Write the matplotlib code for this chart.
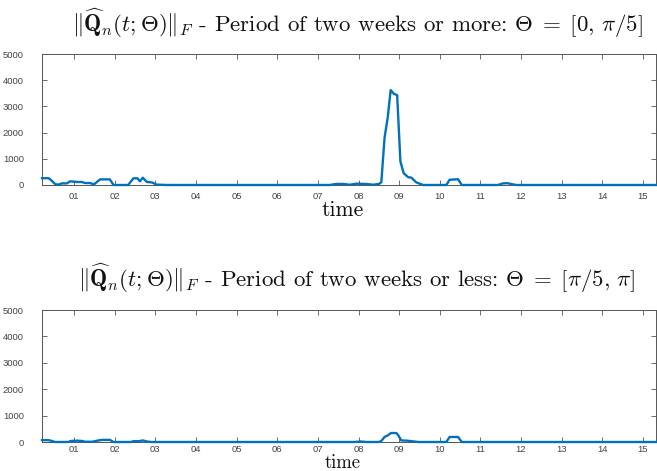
import matplotlib
matplotlib.use("Agg")
import matplotlib.pyplot as plt
from matplotlib.ticker import FixedLocator, FixedFormatter

plt.rcParams['mathtext.fontset'] = 'cm'
plt.rcParams['axes.unicode_minus'] = False

# ---- data ----
top_t = [0.21, 0.37, 0.41, 0.53, 0.60, 0.70, 0.82, 0.90, 1.07, 1.19, 1.27, 1.39, 1.49,
         1.64, 1.88, 1.97, 2.33, 2.46, 2.56, 2.62, 2.69, 2.79, 2.91, 3.03, 3.28,
         7.29, 7.45, 7.62, 7.78, 7.95, 8.19, 8.36, 8.50, 8.56, 8.64, 8.72, 8.79, 8.87,
         8.95, 9.03, 9.11, 9.22, 9.30, 9.42, 9.59, 10.16, 10.24, 10.45, 10.54,
         11.43, 11.55, 11.65, 11.72, 11.88, 15.32]
top_v = [260, 260, 220, 40, 10, 60, 60, 140, 115, 115, 75, 75, 25,
         215, 215, 0, 0, 255, 255, 140, 280, 115, 100, 15, 0,
         0, 40, 40, 10, 50, 40, 10, 40, 100, 1800, 2600, 3620, 3480,
         3430, 900, 450, 300, 280, 100, 0, 0, 200, 220, 0,
         0, 60, 70, 50, 0, 0]

bot_t = [0.21, 0.37, 0.45, 0.53, 0.85, 0.93, 1.07, 1.19, 1.27, 1.45, 1.60, 1.70, 1.88,
         1.97, 2.40, 2.46, 2.60, 2.69, 2.79, 2.90, 7.90, 8.05, 8.20, 8.50, 8.56, 8.64,
         8.72, 8.80, 8.93, 8.98, 9.05, 9.20, 9.47, 10.16, 10.24, 10.45, 10.54, 15.32]
bot_v = [70, 70, 40, 0, 0, 40, 50, 40, 10, 10, 60, 80, 80,
         0, 0, 30, 30, 60, 20, 0, 0, 20, 0, 0, 40, 190,
         250, 340, 340, 250, 60, 50, 0, 0, 190, 190, 0, 0]

day_ticks = list(range(1, 16))
day_labels = ["%02d" % d for d in day_ticks]
y_ticks = [0, 1000, 2000, 3000, 4000, 5000]
y_labels = ["0", "1000", "2000", "3000", "4000", "5000"]

titles = [r"$\|\widehat{\mathbf{Q}}_n(t;\Theta)\|_F$ - Period of two weeks or more: $\Theta\;=\;[0,\,\pi/5]$",
          r"$\|\widehat{\mathbf{Q}}_n(t;\Theta)\|_F$ - Period of two weeks or less: $\Theta\;=\;[\pi/5,\,\pi]$"]

W, H = 657, 471
fig = plt.figure(figsize=(W / 100, H / 100), dpi=100)

line_color = '#0072BD'
axis_color = '#555555'
tick_color = '#444444'

# axes boxes in pixels: (left, top, right, bottom)
boxes = [(42, 54, 656, 185), (42, 310, 656, 442)]
title_base = [32, 287]
xlabel_base = [216, 468.5]
xlabel_size = [15.5, 13.5]
xpad = [5, 2.2]

for i, (t, v) in enumerate([(top_t, top_v), (bot_t, bot_v)]):
    l, tp, r, b = boxes[i]
    ax = fig.add_axes([l / W, 1 - b / H, (r - l) / W, (b - tp) / H])
    ax.plot(t, v, color=line_color, lw=1.7, solid_joinstyle='round', clip_on=False, zorder=3)
    ax.set_xlim(0.21, 15.32)
    ax.set_ylim(0, 5000)
    ax.xaxis.set_major_locator(FixedLocator(day_ticks))
    ax.xaxis.set_major_formatter(FixedFormatter(day_labels))
    ax.yaxis.set_major_locator(FixedLocator(y_ticks))
    ax.yaxis.set_major_formatter(FixedFormatter(y_labels))
    for s in ax.spines.values():
        s.set_color(axis_color)
        s.set_linewidth(0.7)
    ax.tick_params(axis='both', direction='in', top=True, right=True, length=3.5,
                   width=0.6, color=axis_color, labelcolor=tick_color, labelsize=6.8)
    ax.tick_params(axis='x', pad=xpad[i])
    ax.tick_params(axis='y', pad=13)
    for lab in ax.get_xticklabels() + ax.get_yticklabels():
        lab.set_fontfamily('Liberation Sans')
    fig.text(357 / W, 1 - title_base[i] / H, titles[i], ha='center', va='baseline',
             fontsize=16.5, fontfamily='cmr10', color='#111111')
    fig.text(343 / W, 1 - xlabel_base[i] / H, 'time', ha='center', va='baseline',
             fontsize=xlabel_size[i], fontfamily='cmr10', color='#111111')

fig.savefig('out.png', dpi=100)
